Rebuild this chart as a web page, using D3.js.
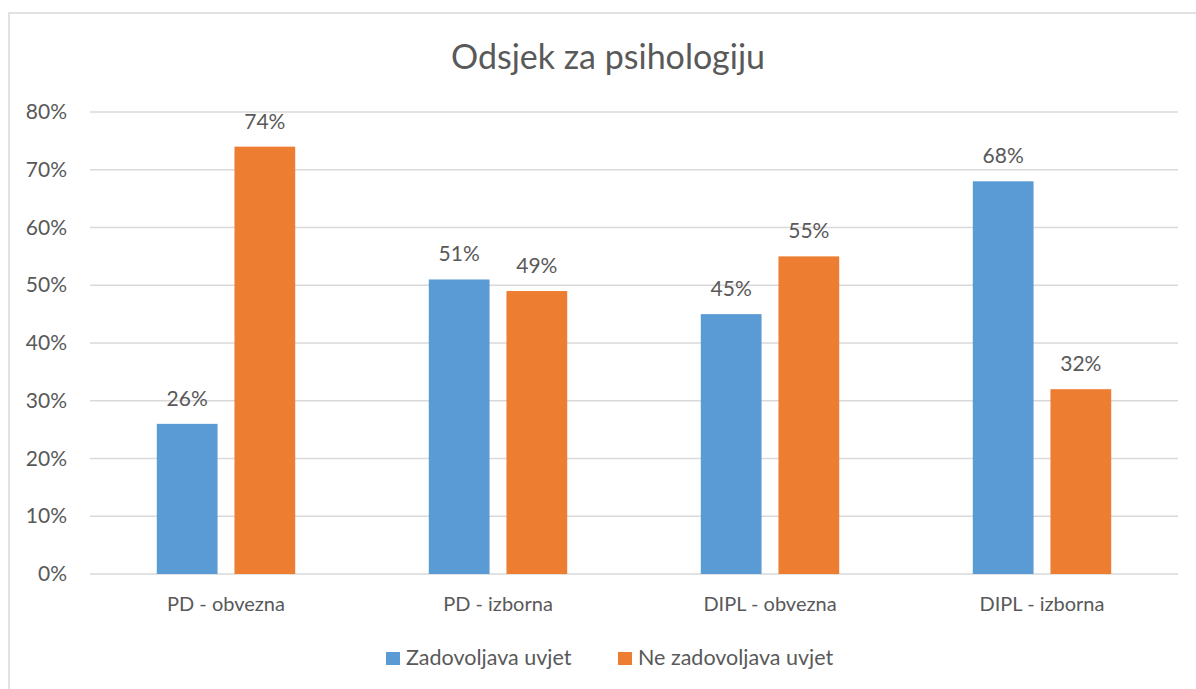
<!DOCTYPE html>
<html>
<head>
<meta charset="utf-8">
<script src="https://cdn.jsdelivr.net/npm/d3@7"></script>
<style>
  body { margin: 0; background: #fff; }
  svg { display: block; font-family: Lato, "Open Sans", sans-serif; }
</style>
</head>
<body>
<div id="vis"></div>
<script>
const categories = ["PD - obvezna", "PD - izborna", "DIPL - obvezna", "DIPL - izborna"];
const seriesNames = ["Zadovoljava uvjet", "Ne zadovoljava uvjet"];
const satisfies = [26, 51, 45, 68];
const notSatisfies = [74, 49, 55, 32];
const yTicks = [0, 10, 20, 30, 40, 50, 60, 70, 80];

const colors = ["#5B9BD5", "#ED7D31"];
const textColor = "#595959";

const W = 1196, H = 689;
const margin = { top: 112, right: 18, bottom: 115, left: 90 };

var svg = d3.select("#vis").append("svg").attr("width", W).attr("height", H);

// chart border (right and bottom edges fall outside the picture)
svg.append("rect")
  .attr("x", 9).attr("y", 13)
  .attr("width", W + 20).attr("height", H + 20)
  .attr("fill", "none").attr("stroke", "#d9d9d9").attr("stroke-width", 1.5);

svg.append("text")
  .attr("x", 608).attr("y", 69)
  .attr("text-anchor", "middle")
  .attr("font-size", 34)
  .attr("font-weight", 400)
  .attr("fill", textColor)
  .text("Odsjek za psihologiju");

var x = d3.scaleBand()
  .domain(categories)
  .range([margin.left, W - margin.right]);

// bar 61px, gap 17px, outer ~67px inside a 272px band
var x1 = d3.scaleBand()
  .domain(seriesNames)
  .range([0, x.bandwidth()])
  .paddingInner(0.218)
  .paddingOuter(0.86);

var y = d3.scaleLinear()
  .domain([0, 80])
  .range([H - margin.bottom, margin.top]);

// gridlines
svg.append("g")
  .selectAll("line")
  .data(yTicks)
  .join("line")
  .attr("x1", margin.left).attr("x2", W - margin.right)
  .attr("y1", d => y(d)).attr("y2", d => y(d))
  .attr("stroke", "#d9d9d9").attr("stroke-width", 1.3);

// y labels
svg.append("g")
  .selectAll("text")
  .data(yTicks)
  .join("text")
  .attr("x", 67)
  .attr("y", d => y(d) + 7)
  .attr("text-anchor", "end")
  .attr("font-size", 21)
  .attr("fill", textColor)
  .text(d => d + "%");

const rows = categories.map((c, i) => ({
  cat: c,
  vals: [
    { s: seriesNames[0], v: satisfies[i] },
    { s: seriesNames[1], v: notSatisfies[i] },
  ],
}));

var groups = svg.append("g")
  .selectAll("g")
  .data(rows)
  .join("g")
  .attr("transform", d => `translate(${x(d.cat)},0)`);

groups.selectAll("rect")
  .data(d => d.vals)
  .join("rect")
  .attr("x", d => x1(d.s))
  .attr("y", d => y(d.v))
  .attr("width", x1.bandwidth())
  .attr("height", d => y(0) - y(d.v))
  .attr("fill", (d, i) => colors[i]);

// value labels
groups.selectAll("text")
  .data(d => d.vals)
  .join("text")
  .attr("x", d => x1(d.s) + x1.bandwidth() / 2)
  .attr("y", d => y(d.v) - 18)
  .attr("text-anchor", "middle")
  .attr("font-size", 21)
  .attr("fill", textColor)
  .text(d => d.v + "%");

// category labels
svg.append("g")
  .selectAll("text")
  .data(categories)
  .join("text")
  .attr("x", d => x(d) + x.bandwidth() / 2)
  .attr("y", 611)
  .attr("text-anchor", "middle")
  .attr("font-size", 20)
  .attr("fill", textColor)
  .text(d => d);

// legend
const legendX = [386, 618];
var legend = svg.append("g")
  .selectAll("g")
  .data(seriesNames)
  .join("g")
  .attr("transform", (d, i) => `translate(${legendX[i]},652)`);

legend.append("rect")
  .attr("width", 14).attr("height", 13)
  .attr("fill", (d, i) => colors[i]);

legend.append("text")
  .attr("x", 20).attr("y", 13)
  .attr("font-size", 21.5)
  .attr("fill", textColor)
  .text(d => d);
</script>
</body>
</html>
